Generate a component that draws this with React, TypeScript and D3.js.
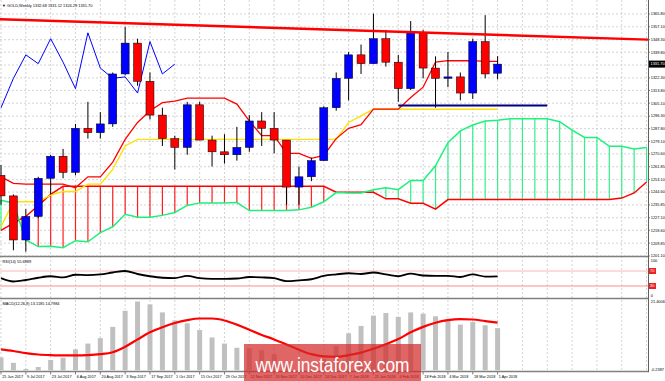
import React from "react";
import * as d3 from "d3";

// ---------- data ----------
const dateLabels = ["25 Jun 2017","9 Jul 2017","23 Jul 2017","6 Aug 2017","20 Aug 2017","3 Sep 2017","17 Sep 2017","1 Oct 2017","15 Oct 2017","29 Oct 2017","12 Nov 2017","26 Nov 2017","10 Dec 2017","24 Dec 2017","7 Jan 2018","21 Jan 2018","4 Feb 2018","18 Feb 2018","4 Mar 2018","18 Mar 2018","1 Apr 2018"];

const opens  = [1256,1242,1212,1228,1254,1269,1258,1288,1285,1291,1325,1346,1320,1297,1281,1275,1304,1280,1272,1270,1275,1293,1288,1280,1248,1255,1266,1302,1322,1338,1332,1349,1333,1315,1353,1329,1322,1323,1312,1347,1325.5];
const highs  = [1263,1243,1233,1255,1270,1274,1291,1306,1299,1326,1357,1349,1326,1302,1283,1306,1306,1283,1284,1289,1297,1299,1299,1280,1262,1268,1303,1326,1340,1345,1366,1355,1338,1361,1355,1337,1340,1326,1349,1365,1337.1];
const lows   = [1236,1205,1204,1227,1243,1254,1256,1281,1281,1289,1324,1317,1294,1276,1260,1270,1280,1262,1264,1266,1272,1276,1271,1236,1236,1252,1266,1300,1307,1325,1332,1330,1306,1314,1322,1302,1316,1307,1308,1322,1321.3];
const closes = [1242,1212,1228,1254,1269,1258,1288,1285,1291,1325,1346,1320,1297,1281,1275,1304,1280,1272,1270,1275,1293,1288,1280,1248,1255,1266,1302,1322,1338,1332,1349,1333,1315,1353,1329,1322,1323,1312,1347,1325,1331.7];

const tenkan = [1255,1250.5,1250,1250,1250,1250,1247.5,1255,1255,1265,1280.5,1292,1300,1305.5,1306.5,1308.5,1308.5,1308.5,1308.5,1304.5,1293,1283,1283,1271,1271,1267.5,1269.5,1281,1288,1290.5,1301,1301,1301,1309,1316,1333,1334,1334,1334,1333.5,1333.5];
const kijun = [1221,1238,1238,1238,1242.5,1245,1245,1250,1250,1260,1276,1280.5,1280.5,1280.5,1280.5,1280.5,1280.5,1280.5,1280.5,1280.5,1280.5,1280.5,1280.5,1280.5,1280.5,1280.5,1280.5,1280.5,1292,1296.5,1301,1301,1301,1301,1301,1301,1301,1301,1301,1301,1301];
const spanA = [1239,1237,1212,1207.5,1207.75,1206.75,1211.5,1210.75,1217,1221,1229.5,1227.5,1227.5,1228.75,1230.75,1235.5,1237.25,1237.25,1237.25,1237.5,1232,1232,1232,1232,1232.5,1234.25,
  1238,1244.25,1244,1244,1246.25,1247.5,1246.25,1252.5,1252.5,1262.5,1278.25,1286.25,1290.25,1293,1293.5,1294.5,1294.5,1294.5,1294.5,1292.5,1286.75,1281.75,1281.75,1275.75,1275.75,1274,1275];
const spanB = [1218.5,1223.5,1228,1235.5,1243,1248.5,1248.5,1248.5,1248.5,1248.5,1248.5,1248.5,1248.5,1248.5,1248.5,1248.5,1248.5,1248.5,1248.5,1248.5,1248.5,1248.5,1248.5,1248.5,1248.5,1248.5,
  1248.5,1244.5,1244.5,1244.5,1244.5,1240,1240,1237,1237,1233,1239.5,1239.5,1239.5,1239.5,1239.5,1239.5,1239.5,1239.5,1239.5,1239.5,1239.5,1239.5,1239.5,1239.5,1240.5,1244,1251.5];

const rsiValues = [51,42,46,52,56,53,60,59,61,66,70,62,56,52,51,57,51,49,49,50,54,53,51,43,45,48,57,61,64,62,66,61,56,63,58,57,57,54,61,55,55.7];
const macdMain = [4.0,2.3,0.4,1.0,3.2,3.9,6.5,8.3,10.0,13.5,18.5,21.4,20.5,18.0,15.5,14.6,12.5,10.2,8.3,7.0,6.8,6.2,5.0,1.7,-0.24,0.2,3.5,7.5,11.5,13.8,17.0,17.8,16.6,18.0,17.6,16.8,16.0,14.2,15.0,14.0,13.1];
const macdSignal = [6.5,6.0,5.3,4.9,4.7,4.6,4.6,4.7,5.0,5.6,7.3,9.6,11.8,13.4,14.7,15.6,16.1,16.1,15.5,14.2,12.6,11.0,9.6,8.0,6.4,5.0,4.3,4.2,4.7,5.5,6.7,8.1,9.7,11.8,13.5,14.8,15.6,15.9,15.8,15.3,14.8];

const priceLabels = ["1201.10","1209.85","1218.60","1227.10","1235.85","1244.60","1253.10","1261.85","1270.60","1279.10","1287.80","1296.30","1305.10","1313.80","1322.30","1331.05","1339.80","1348.30","1357.10","1365.80"];
const lastPrice = 1331.70;
const trendLine = [[0, 1362.2], [52, 1348.4]];
const supportLine = [[32, 1303.5], [44, 1303.5]];
const rsiLevels = [70, 30];
const headerText = "\u25BC GOLD,Weekly  1332.68 1331.12 1324.29 1331.70";
const rsiText = "RSI(14) 55.6989";
const macdText = "MACD(12,26,9) 13.1185 14.7984";
const macdMaxLabel = "21.4006";
const macdMinLabel = "-0.2387";

// ---------- layout ----------
const W = 665, H = 381;
const RIGHT = 648;
const MAIN_BOTTOM = 256;
const FONT = "'Liberation Sans', Arial, sans-serif";
const AX = 3.9;

export default function App() {
  const x = d3.scaleLinear().domain([0, 40]).range([1, 497.6]);
  const y = d3.scaleLinear().domain([1201.1, 1365.8]).range([256, 14]);
  const yr = d3.scaleLinear().domain([0, 100]).range([297.25, 259.75]);
  const ym = d3.scaleLinear().domain([-0.2387, 21.4006]).range([371, 301.5]);

  const idx = closes.map((_, i) => i);
  const gridBars = d3.range(0, 53, 2);

  const lineMain = (arr: number[], off = 0) =>
    d3.line<number>().x((_, i) => x(i + off)).y((v) => y(v))(arr) || "";

  const chikou = closes.slice(26);
  const cloudIdx = spanA.map((_, i) => i);

  const tl = d3.scaleLinear().domain([trendLine[0][0], trendLine[1][0]]).range([trendLine[0][1], trendLine[1][1]]);
  const xLeftBar = x.invert(0), xRightBar = x.invert(RIGHT);

  return (
    <svg width={W} height={H} style={{ position: "fixed", left: 0, top: 0, background: "#fff" }} fontFamily={FONT}>
      <defs>
        <clipPath id="mainClip"><rect x={0} y={0} width={RIGHT} height={MAIN_BOTTOM} /></clipPath>
        <clipPath id="macdClip"><rect x={0} y={299} width={RIGHT} height={72} /></clipPath>
      </defs>
      <rect x={0} y={0} width={W} height={H} fill="#fff" />

      {/* vertical grid */}
      {gridBars.map((b) => (
        <line key={"vg" + b} x1={x(b)} x2={x(b)} y1={0} y2={371} stroke="#c8c8c8" strokeWidth={0.8} strokeDasharray="2,2" />
      ))}
      {/* horizontal price grid */}
      {priceLabels.map((p) => (
        <line key={"hg" + p} x1={0} x2={RIGHT} y1={y(+p)} y2={y(+p)} stroke="#c8c8c8" strokeWidth={0.8} strokeDasharray="2,2" />
      ))}

      <g clipPath="url(#mainClip)">
        {/* cloud hatching */}
        {cloudIdx.map((i) => (
          <line key={"h" + i} x1={x(i)} x2={x(i)} y1={y(spanA[i])} y2={y(spanB[i])}
            stroke={spanA[i] >= spanB[i] ? "#33f08a" : "#ff2020"} strokeWidth={1.2} />
        ))}
        <path d={lineMain(spanB)} fill="none" stroke="#ff0000" strokeWidth={1.5} />
        <path d={lineMain(spanA)} fill="none" stroke="#1ef07c" strokeWidth={1.5} />

        {/* kijun & tenkan */}
        <path d={lineMain(kijun)} fill="none" stroke="#ffe000" strokeWidth={1.4} />
        <path d={lineMain(tenkan)} fill="none" stroke="#ff0000" strokeWidth={1.3} />
        {/* chikou */}
        <path d={lineMain(chikou)} fill="none" stroke="#0000ff" strokeWidth={1} />

        {/* candles */}
        {idx.map((i) => {
          const up = closes[i] >= opens[i];
          const top = y(Math.max(opens[i], closes[i]));
          const bot = y(Math.min(opens[i], closes[i]));
          return (
            <g key={"c" + i}>
              <line x1={x(i)} x2={x(i)} y1={y(highs[i])} y2={y(lows[i])} stroke="#000" strokeWidth={1} />
              <rect x={x(i) - 4} y={top} width={8} height={Math.max(1, bot - top)} fill={up ? "#0000ff" : "#ff0000"} stroke="#000" strokeWidth={0.5} />
            </g>
          );
        })}

        {/* trend line */}
        <line x1={0} x2={RIGHT} y1={y(tl(xLeftBar))} y2={y(tl(xRightBar))} stroke="#ff0000" strokeWidth={2.4} />
        {/* support line */}
        <line x1={x(supportLine[0][0])} x2={x(supportLine[1][0])} y1={y(supportLine[0][1])} y2={y(supportLine[1][1])} stroke="#000080" strokeWidth={2} />
      </g>

      {/* header */}
      <text x={2} y={6.5} fontSize={AX} fill="#000">{headerText}</text>

      {/* RSI panel */}
      {rsiLevels.map((l, k) => (
        <line key={"rl" + l} x1={0} x2={RIGHT} y1={yr(l)} y2={yr(l)} stroke={k === 0 ? "#ffb4b4" : "#ff8a8a"} strokeWidth={1} />
      ))}
      <path d={d3.line<number>().x((_, i) => x(i)).y((v) => yr(v)).curve(d3.curveMonotoneX)(rsiValues) || ""} fill="none" stroke="#000" strokeWidth={1.8} />
      <text x={2.5} y={262.5} fontSize={AX} fill="#000">{rsiText}</text>

      {/* MACD panel */}
      <g clipPath="url(#macdClip)">
        {macdMain.map((v, i) => (
          <rect key={"m" + i} x={x(i) - 2.5} width={5} y={Math.min(ym(v), ym(0))} height={Math.abs(ym(v) - ym(0))} fill="#c0c0c0" />
        ))}
        <path d={d3.line<number>().x((_, i) => x(i)).y((v) => ym(v)).curve(d3.curveMonotoneX)(macdSignal) || ""} fill="none" stroke="#ff0000" strokeWidth={2.2} />
      </g>
      <text x={2.5} y={304.5} fontSize={AX} fill="#000">{macdText}</text>

      {/* panel separators */}
      <line x1={0} x2={RIGHT + 1} y1={256.5} y2={256.5} stroke="#808080" strokeWidth={1.5} />
      <line x1={0} x2={RIGHT + 1} y1={298.5} y2={298.5} stroke="#808080" strokeWidth={1.5} />
      <line x1={0} x2={RIGHT + 1} y1={371.5} y2={371.5} stroke="#808080" strokeWidth={1.5} />
      <line x1={RIGHT + 0.5} x2={RIGHT + 0.5} y1={0} y2={372} stroke="#606060" strokeWidth={1} />

      {/* right price labels */}
      {priceLabels.map((p) => (
        <g key={"pl" + p}>
          <line x1={RIGHT} x2={RIGHT + 2} y1={y(+p)} y2={y(+p)} stroke="#606060" strokeWidth={0.8} />
          <text x={RIGHT + 2.8} y={y(+p)} dy="0.35em" fontSize={AX} fill="#000">{p}</text>
        </g>
      ))}
      <rect x={RIGHT + 1} y={y(lastPrice) - 3.5} width={16} height={7} fill="#000" />
      <text x={RIGHT + 2.5} y={y(lastPrice)} dy="0.35em" fontSize={AX} fill="#fff">{lastPrice.toFixed(2)}</text>

      {/* RSI axis labels */}
      <text x={RIGHT + 2.8} y={yr(100) + 1} dy="0.35em" fontSize={AX} fill="#000">100</text>
      <text x={RIGHT + 2.8} y={yr(0) - 1.5} dy="0.35em" fontSize={AX} fill="#000">0</text>
      {rsiLevels.map((l) => (
        <g key={"rb" + l}>
          <rect x={RIGHT + 1} y={yr(l) - 3} width={7} height={6} fill="#ee2222" />
          <text x={RIGHT + 2} y={yr(l)} dy="0.35em" fontSize={AX} fill="#fff">{l}</text>
        </g>
      ))}

      {/* MACD axis labels */}
      <text x={RIGHT + 2.8} y={302} dy="0.35em" fontSize={AX} fill="#000">{macdMaxLabel}</text>
      <text x={RIGHT + 2.8} y={369.5} dy="0.35em" fontSize={AX} fill="#000">{macdMinLabel}</text>

      {/* date axis */}
      {dateLabels.map((d, k) => (
        <g key={"d" + d}>
          <line x1={x(2 * k)} x2={x(2 * k)} y1={372} y2={374.5} stroke="#606060" strokeWidth={0.8} />
          <text x={x(2 * k) + 1.2} y={378} fontSize={3.8} fill="#000">{d}</text>
        </g>
      ))}

      {/* watermark */}
      <rect x={244} y={344} width={177} height={37} fill="#d42a2a" opacity={0.72} />
      <text x={332.5} y={371.5} textAnchor="middle" fontSize={21} fill="#fff" textLength={154} lengthAdjust="spacingAndGlyphs">www.instaforex.com</text>
    </svg>
  );
}
